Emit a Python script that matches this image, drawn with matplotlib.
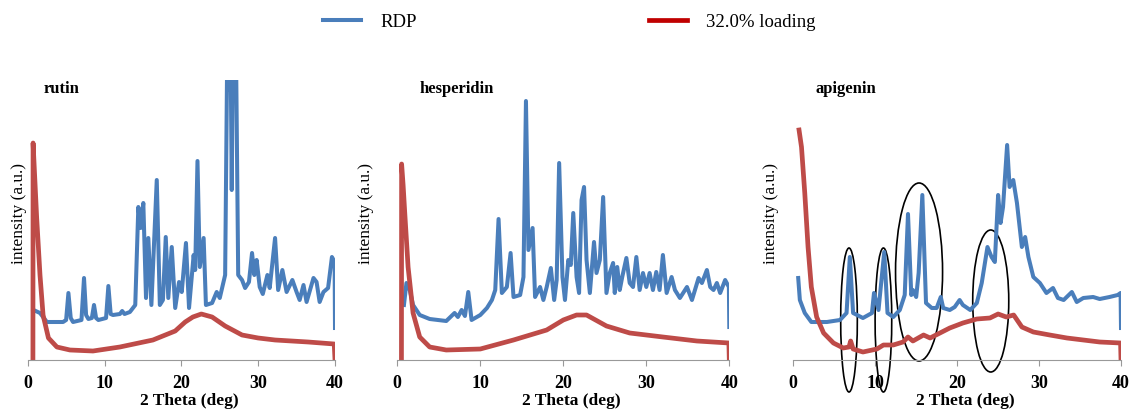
import numpy as np
import matplotlib
matplotlib.use('Agg')
import matplotlib.pyplot as plt
from matplotlib.patches import Ellipse

plt.rcParams['font.family'] = ['Liberation Serif', 'DejaVu Serif']

BLUE = '#4A7EBB'
RED = '#BE4B48'

# rutin
rut_x = [0.75, 1.6, 2.5, 4.6, 5.0, 5.3, 5.6, 5.9, 7.0, 7.33, 7.6, 7.9, 8.35, 8.63, 8.9, 9.2,
         10.2, 10.5, 10.8, 11.1, 12.0, 12.3, 12.6, 13.3, 14.0, 14.4, 14.7, 15.05, 15.4, 15.7,
         16.1, 16.8, 17.2, 17.6, 17.97, 18.3, 18.75, 19.2, 19.7, 20.05, 20.6, 21.0, 21.6, 21.8,
         22.1, 22.4, 22.9, 23.2, 24.0, 24.6, 25.0, 25.7, 26.0, 26.1, 26.2, 26.3, 26.4, 26.56,
         26.7, 26.8, 26.9, 27.0, 27.1, 27.4,
         27.9, 28.3, 28.8, 29.2, 29.5, 29.8, 30.2, 30.6, 31.2, 31.5, 32.2, 32.6, 33.15, 33.7,
         34.45, 35.0, 35.4, 35.9, 36.3, 37.2, 37.6, 38.0, 38.5, 39.1, 39.6, 39.95, 40.0]
rut_rdp = [50, 47, 38, 38, 40, 67, 42, 38, 40, 82, 45, 41, 42, 55, 42, 40,
           42, 74, 46, 45, 46, 49, 46, 48, 55, 153, 132, 157, 62, 122,
           55, 180, 55, 60, 123, 62, 113, 52, 78, 68, 117, 52, 105, 90,
           199, 93, 122, 55, 57, 68, 62, 85, 330, 270, 330, 275, 320, 170,
           300, 330, 280, 330, 320, 85,
           80, 72, 78, 107, 85, 100, 73, 66, 85, 72, 122, 70, 90, 68,
           80, 68, 60, 75, 58, 82, 78, 58, 68, 72, 103, 98, 32]
rut_lx = [0.68, 0.7, 0.9, 1.17, 1.6, 2.0, 2.7, 3.8, 5.5, 8.5, 12.0, 16.3, 19.2, 20.5, 21.5,
          22.6, 24.0, 25.7, 27.9, 30.0, 32.2, 36.5, 39.9, 40.0]
rut_load = [0, 217, 185, 142, 85, 45, 22, 13, 10, 9, 13, 20, 29, 38, 43,
            46, 43, 34, 25, 22, 20, 18, 16, 0]

# hesperidin
hes_x = [0.8, 1.1, 1.5, 1.9, 2.7, 3.9, 5.9, 6.9, 7.3, 7.75, 8.15, 8.55, 8.95, 10.0, 10.8,
         11.4, 11.8, 12.2, 12.6, 13.2, 13.65, 14.0, 14.8, 15.2, 15.5, 15.8, 16.3, 16.6, 17.2,
         17.6, 18.0, 18.5, 18.9, 19.2, 19.5, 19.9, 20.2, 20.6, 20.9, 21.2, 21.6, 21.9, 22.2,
         22.5, 22.8, 23.2, 23.7, 24.0, 24.4, 24.8, 25.2, 25.6, 26.0, 26.2, 26.5, 26.8, 27.1,
         27.6, 28.0, 28.4, 28.8, 29.2, 29.6, 30.0, 30.4, 30.8, 31.2, 31.6, 32.0, 32.45, 33.05,
         33.45, 34.05, 34.9, 35.5, 36.3, 36.7, 37.3, 37.7, 38.1, 38.5, 38.9, 39.5, 39.95, 40.0]
hes_rdp = [55, 77, 70, 55, 45, 41, 39, 47, 43, 50, 44, 68, 40, 45, 52,
           60, 70, 141, 67, 73, 107, 63, 65, 83, 259, 110, 132, 63, 73,
           60, 73, 92, 60, 80, 197, 83, 60, 100, 95, 147, 83, 67, 160,
           173, 100, 67, 118, 87, 100, 163, 67, 87, 97, 67, 93, 70, 83,
           102, 77, 73, 103, 70, 87, 73, 87, 70, 88, 70, 105, 67, 83,
           70, 62, 73, 60, 82, 77, 90, 73, 70, 77, 67, 80, 73, 33]
hes_lx = [0.5, 0.52, 0.7, 0.9, 1.3, 1.9, 2.7, 3.9, 5.9, 10.0, 14.0, 18.0, 20.0, 21.6, 22.8,
          25.2, 28.0, 32.0, 36.1, 39.95, 40.0]
hes_load = [0, 196, 175, 147, 93, 47, 23, 13, 10, 11, 20, 30, 40, 45, 45,
            34, 27, 23, 19, 17, 0]

# apigenin
api_x = [0.6, 0.8, 1.4, 2.2, 4.1, 5.7, 6.5, 6.9, 7.3, 8.5, 9.6, 9.85, 10.4, 11.1, 11.5,
         12.2, 13.0, 13.6, 14.0, 14.4, 14.6, 15.0, 15.3, 15.75, 16.2, 16.9, 17.5, 18.0, 18.3,
         19.1, 19.7, 20.3, 20.7, 21.6, 22.4, 23.0, 23.7, 24.2, 24.6, 25.0, 25.3, 25.6, 26.1,
         26.4, 26.85, 27.3, 27.9, 28.3, 28.7, 29.3, 30.1, 30.9, 31.7, 32.3, 33.0, 34.0, 34.6,
         35.4, 36.6, 37.4, 38.6, 39.6, 39.95, 40.0]
api_rdp = [82, 60, 47, 38, 38, 40, 47, 103, 47, 42, 47, 67, 50, 108, 47,
           43, 50, 65, 146, 65, 70, 63, 87, 165, 57, 52, 52, 63, 52,
           50, 53, 60, 55, 50, 57, 77, 113, 103, 98, 165, 137, 153, 215,
           173, 180, 157, 113, 123, 103, 83, 77, 67, 72, 62, 60, 68, 58,
           62, 63, 61, 63, 65, 67, 32]
api_lx = [0.7, 1.0, 1.4, 1.8, 2.2, 2.85, 3.7, 4.9, 6.1, 6.8, 7.0, 7.3, 8.5, 10.2, 11.0,
          12.2, 13.4, 14.0, 14.6, 15.9, 16.7, 17.9, 19.1, 20.7, 22.4, 24.0, 25.0, 26.0, 26.9,
          27.9, 29.3, 31.3, 33.4, 35.4, 37.4, 39.95, 40.0]
api_load = [230, 213, 167, 113, 73, 43, 27, 17, 12, 13, 19, 11, 8, 11, 15,
            15, 18, 23, 19, 25, 22, 27, 32, 37, 41, 42, 46, 43, 45,
            33, 28, 25, 22, 20, 18, 17, 0]

# highlighted regions on apigenin: centre x, centre y, width, height
circ_x = [6.8, 11.0, 15.35, 24.1]
circ_y = [40, 40, 88, 59]
circ_w = [2.03, 2.03, 5.74, 4.4]
circ_h = [144, 144, 178, 142]

names = ['rutin', 'hesperidin', 'apigenin']
panels = [(rut_x, rut_rdp, rut_lx, rut_load),
          (hes_x, hes_rdp, hes_lx, hes_load),
          (api_x, api_rdp, api_lx, api_load)]

W, H = 1134, 409
fig = plt.figure(figsize=(W / 100, H / 100), dpi=100)

# axes boxes in pixels: left, right
boxes = [(27.7, 335.0), (397.3, 729.3), (793.3, 1121.0)]
ylab_x = [19, 366, 771]
bottom_px, top_px = 360, 80

axes = []
for i, (l, r) in enumerate(boxes):
    ax = fig.add_axes([l / W, (H - bottom_px) / H, (r - l) / W, (bottom_px - top_px) / H])
    bx, by, rx, ry = panels[i]
    lb, = ax.plot(bx, by, color=BLUE, lw=2.9, label='RDP', solid_joinstyle='round')
    lr, = ax.plot(rx, ry, color=RED, lw=3.4, label='32.0% loading', solid_joinstyle='round')
    ax.set_xlim(0, 40)
    ax.set_ylim(0, bottom_px - top_px)
    ax.set_xticks([0, 10, 20, 30, 40])
    ax.set_yticks([])
    for s in ['left', 'top', 'right']:
        ax.spines[s].set_visible(False)
    ax.spines['bottom'].set_color('#999999')
    ax.tick_params(axis='x', direction='out', length=4, color='#999999', pad=7, labelsize=13)
    for t in ax.get_xticklabels():
        t.set_fontweight('bold')
    ax.set_xlabel('2 Theta (deg)', fontsize=12.5, fontweight='bold')
    ax.xaxis.set_label_coords(0.525, -41 / (bottom_px - top_px), transform=ax.transAxes)
    ax.xaxis.label.set_va('center')
    fig.text(ylab_x[i] / W, 1 - 214 / H, 'intensity (a.u.)', rotation=90,
             ha='center', va='center', fontsize=12.5)
    axes.append(ax)

title_px = [44, 420, 815]
for i, t in enumerate(names):
    fig.text(title_px[i] / W, 1 - 89 / H, t, fontsize=12, fontweight='bold',
             ha='left', va='center')

ax3 = axes[2]
for cx, cy, w, h in zip(circ_x, circ_y, circ_w, circ_h):
    ax3.add_patch(Ellipse((cx, cy), w, h, fill=False, edgecolor='black', lw=1.2, clip_on=False))

leg = fig.legend(handles=[lb, lr], loc='center left', bbox_to_anchor=(323 / W, 1 - 22 / H),
                 ncol=2, frameon=False, fontsize=13.5, handlelength=2.0, handletextpad=1.05,
                 columnspacing=12.4, borderpad=0, borderaxespad=0)
leg.legend_handles[1].set_color('#C00000')

fig.savefig('out.png', dpi=100)
